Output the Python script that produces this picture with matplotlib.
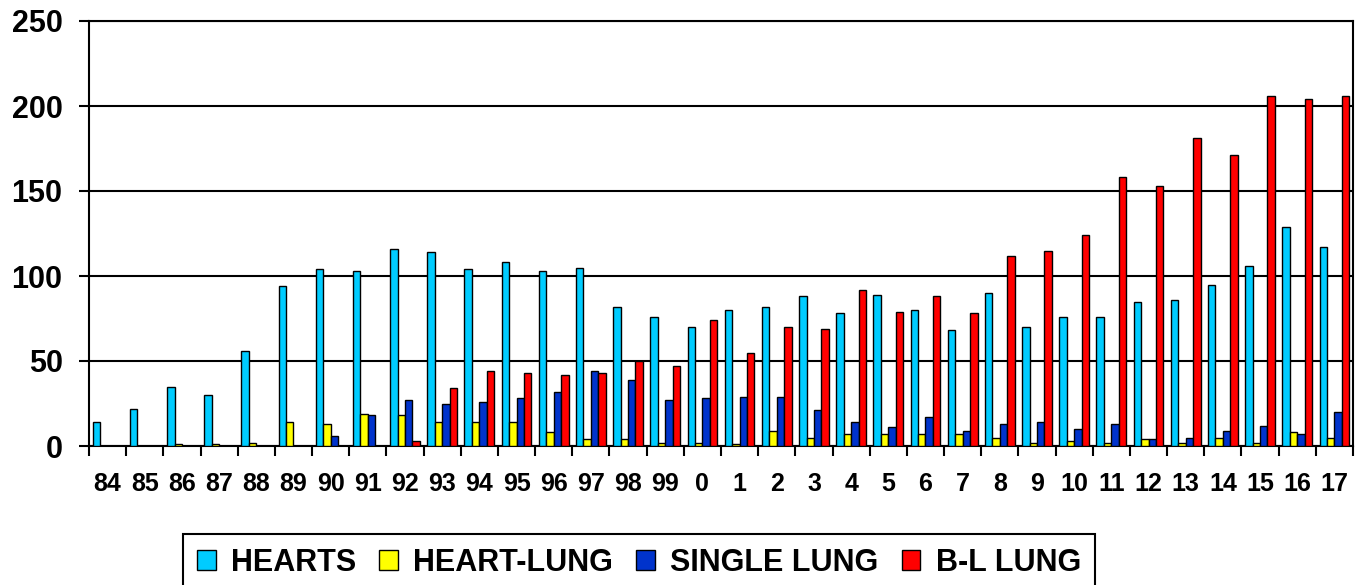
import numpy as np
import matplotlib
matplotlib.use('Agg')
import matplotlib.pyplot as plt

plt.rcParams['font.family'] = ['Liberation Sans', 'DejaVu Sans']
plt.rcParams['font.weight'] = 'bold'

years = ['84', '85', '86', '87', '88', '89', '90', '91', '92', '93', '94', '95',
         '96', '97', '98', '99', '0', '1', '2', '3', '4', '5', '6', '7', '8',
         '9', '10', '11', '12', '13', '14', '15', '16', '17']
hearts = [14, 22, 35, 30, 56, 94, 104, 103, 116, 114, 104, 108, 103, 105, 82, 76,
          70, 80, 82, 88, 78, 89, 80, 68, 90, 70, 76, 76, 85, 86, 95, 106, 129, 117]
heart_lung = [0, 0, 1, 1, 2, 14, 13, 19, 18, 14, 14, 14, 8, 4, 4, 2,
              2, 1, 9, 5, 7, 7, 7, 7, 5, 2, 3, 2, 4, 2, 5, 2, 8, 5]
single_lung = [0, 0, 0, 0, 0, 0, 6, 18, 27, 25, 26, 28, 32, 44, 39, 27,
               28, 29, 29, 21, 14, 11, 17, 9, 13, 14, 10, 13, 4, 5, 9, 12, 7, 20]
bl_lung = [0, 0, 0, 0, 0, 0, 0, 0, 3, 34, 44, 43, 42, 43, 50, 47,
           74, 55, 70, 69, 92, 79, 88, 78, 112, 115, 124, 158, 153, 181, 171, 206, 204, 206]

series = [('HEARTS', hearts, '#00CCFF'),
          ('HEART-LUNG', heart_lung, '#FFFF00'),
          ('SINGLE LUNG', single_lung, '#0033CC'),
          ('B-L LUNG', bl_lung, '#FF0000')]

W, H = 1361, 585
fig = plt.figure(figsize=(W / 100, H / 100), dpi=100)
ax = fig.add_axes([89 / W, 1 - 446 / H, (1353 - 89) / W, (446 - 21) / H])

x = np.arange(len(years))
bw = 0.2
for i, (name, vals, col) in enumerate(series):
    ax.bar(x + (i - 1.5) * bw, vals, bw, color=col, edgecolor='black',
           linewidth=1.0, label=name, zorder=3)

ax.set_xlim(-0.5, len(years) - 0.5)
ax.set_ylim(0, 250)
ax.set_yticks(range(0, 251, 50))
ax.yaxis.grid(True, color='black', linewidth=1.5, zorder=1)
for s in ax.spines.values():
    s.set_linewidth(1.5)
    s.set_color('black')

ax.set_xticks(x)
ax.set_xticklabels(years)
ax.set_xticks(np.arange(-0.5, len(years), 1), minor=True)
ax.tick_params(axis='x', which='major', length=0, pad=19, labelsize=18)
ax.tick_params(axis='x', which='minor', length=7, width=1.5, direction='out')
ax.tick_params(axis='y', length=7, width=1.5, direction='out', pad=12, labelsize=22)
for lab in ax.get_xticklabels() + ax.get_yticklabels():
    lab.set_fontweight('bold')

leg = ax.legend(loc='upper left', bbox_to_anchor=(183 / W, 1 - 534 / H),
                bbox_transform=fig.transFigure, ncol=4, frameon=True,
                fancybox=False, edgecolor='black', framealpha=1,
                prop={'size': 22, 'weight': 'bold'},
                handlelength=0.62, handleheight=0.65, handletextpad=0.5,
                columnspacing=0.75, borderpad=0.45, borderaxespad=0)
leg.get_frame().set_linewidth(1.5)

fig.savefig('out.png', dpi=100)
